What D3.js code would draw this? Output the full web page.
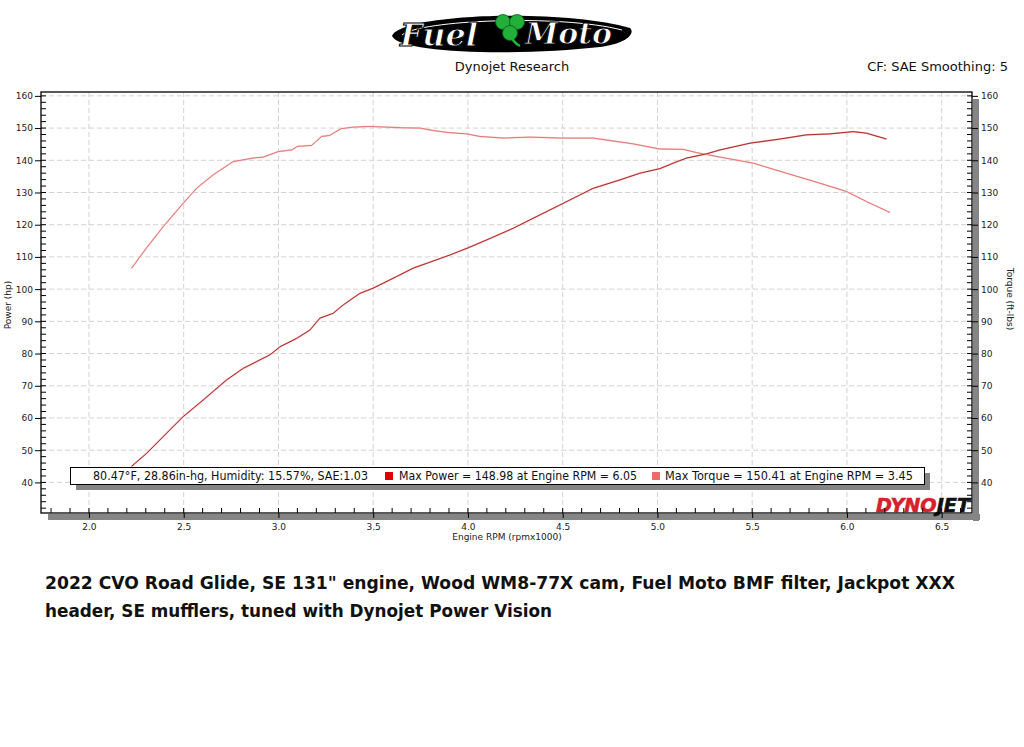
<!DOCTYPE html>
<html><head><meta charset="utf-8">
<script src="https://cdn.jsdelivr.net/npm/d3@7"></script>
<style>body{margin:0;background:#fff}svg{display:block}</style>
</head><body>
<script>
// ---- data ----
const rpmTorque = [2.225,2.30,2.392,2.498,2.568,2.656,2.761,2.867,2.92,2.999,3.07,3.10,3.175,3.228,3.27,3.33,3.395,3.48,3.57,3.65,3.746,3.82,3.9,3.993,4.063,4.187,4.327,4.485,4.66,4.73,4.872,5.013,5.136,5.206,5.33,5.506,5.68,5.857,5.998,6.103,6.227];
const torque = [106.5,112.5,119.4,126.7,131.3,135.5,139.6,140.7,141,142.7,143.2,144.3,144.6,147.4,147.7,149.8,150.3,150.5,150.3,150.1,150,149.2,148.6,148.2,147.4,146.9,147.2,146.9,146.9,146.3,145.1,143.5,143.4,142.4,141,139.1,136,132.9,130.3,127.2,123.8];
const rpmPower = [2.225,2.304,2.427,2.497,2.603,2.726,2.814,2.955,3.008,3.096,3.166,3.219,3.289,3.342,3.43,3.5,3.623,3.711,3.905,4.0,4.1,4.239,4.327,4.485,4.661,4.802,4.908,5.013,5.083,5.154,5.259,5.33,5.488,5.646,5.787,5.91,6.034,6.103,6.209];
const power = [45.0,49.0,56.3,60.4,65.6,71.8,75.4,79.6,82.1,84.7,87.3,91.0,92.5,95.1,98.7,100.3,103.9,106.5,110.6,112.8,115.3,118.9,121.5,126.1,131.3,133.9,136,137.4,139.1,140.7,142,143.2,145.3,146.6,147.9,148.2,148.9,148.4,146.6];
const xTickLabels = ["2.0","2.5","3.0","3.5","4.0","4.5","5.0","5.5","6.0","6.5"];
const yTickLabels = ["40","50","60","70","80","90","100","110","120","130","140","150","160"];
const legendTexts = ["80.47°F, 28.86in-hg, Humidity: 15.57%, SAE:1.03","Max Power = 148.98 at Engine RPM = 6.05","Max Torque = 150.41 at Engine RPM = 3.45"];
const captionLines = ["2022 CVO Road Glide, SE 131\" engine, Wood WM8-77X cam, Fuel Moto BMF filter, Jackpot XXX","header, SE mufflers, tuned with Dynojet Power Vision"];

const W = 1024, H = 747;
const svg = d3.select("body").append("svg").attr("width", W).attr("height", H);
const FONT = "Tahoma, 'DejaVu Sans', sans-serif";

const L = 41, R = 972, T = 92, B = 513;
const x = d3.scaleLinear().domain([1.747, 6.66]).range([L, R]);
const y = d3.scaleLinear().domain([30.5, 161.2]).range([B, T]);

// ---- logo ----
const logo = svg.append("g");
logo.append("path").attr("d","M392,36 C400,14 560,8 630,28 C636,34 625,44 600,47 C520,56 400,54 392,36 Z").attr("fill","#000");
logo.append("path").attr("d","M402,35 C420,20 560,14 622,30").attr("fill","none").attr("stroke","#fff").attr("stroke-width",1);
logo.append("text").attr("x",400).attr("y",46).text("Fuel")
  .attr("font-family","'DejaVu Serif', serif").attr("font-style","italic").attr("font-weight","bold").attr("font-size",32)
  .attr("fill","#fff").attr("stroke","#000").attr("stroke-width",1);
logo.append("text").attr("x",525).attr("y",44).text("Moto")
  .attr("font-family","'DejaVu Serif', serif").attr("font-style","italic").attr("font-weight","bold").attr("font-size",30)
  .attr("fill","#fff").attr("stroke","#000").attr("stroke-width",1);
[[503,22],[517,22],[510,33]].forEach(([cx,cy])=>logo.append("circle").attr("cx",cx).attr("cy",cy).attr("r",7.5).attr("fill","#22b03a").attr("stroke","#0a5a18").attr("stroke-width",0.8));
logo.append("path").attr("d","M510,34 C512,40 516,44 520,46").attr("stroke","#22b03a").attr("stroke-width",2.5).attr("fill","none");

svg.append("text").attr("x",512).attr("y",71).attr("text-anchor","middle").text("Dynojet Research")
  .attr("font-family",FONT).attr("font-size",13).attr("fill","#111");
svg.append("text").attr("x",1008).attr("y",71).attr("text-anchor","end").text("CF: SAE Smoothing: 5")
  .attr("font-family",FONT).attr("font-size",13).attr("fill","#111");

// ---- frame shadow ----
svg.append("rect").attr("x",R+1).attr("y",T+7).attr("width",6).attr("height",B-T+1).attr("fill","#858585");
svg.append("rect").attr("x",L+7).attr("y",B+1).attr("width",R-L+1).attr("height",6).attr("fill","#858585");

// ---- grid ----
const xMajor = xTickLabels.map(Number);
const yMajor = yTickLabels.map(Number);
svg.append("g").selectAll("line").data(xMajor).join("line")
  .attr("x1",d=>x(d)).attr("x2",d=>x(d)).attr("y1",T).attr("y2",B)
  .attr("stroke","#d2d2d2").attr("stroke-dasharray","5,3");
svg.append("g").selectAll("line").data(yMajor).join("line")
  .attr("y1",d=>y(d)).attr("y2",d=>y(d)).attr("x1",L).attr("x2",R)
  .attr("stroke","#d2d2d2").attr("stroke-dasharray","5,3");

// ---- curves ----
const lineT = d3.line().x(d=>x(d[0])).y(d=>y(d[1]));
svg.append("path").datum(d3.zip(rpmTorque, torque)).attr("d", lineT)
  .attr("fill","none").attr("stroke","#f8d0d0").attr("stroke-width",1.8);
svg.append("path").datum(d3.zip(rpmTorque, torque)).attr("d", lineT)
  .attr("fill","none").attr("stroke","#de5e5e").attr("stroke-width",0.8);
svg.append("path").datum(d3.zip(rpmPower, power)).attr("d", lineT)
  .attr("fill","none").attr("stroke","#f4b4b4").attr("stroke-width",1.8);
svg.append("path").datum(d3.zip(rpmPower, power)).attr("d", lineT)
  .attr("fill","none").attr("stroke","#a81818").attr("stroke-width",0.9);

// ---- legend ----
const lg = svg.append("g");
lg.append("rect").attr("x",76).attr("y",473).attr("width",854).attr("height",17).attr("fill","#858585");
lg.append("rect").attr("x",70.5).attr("y",467.5).attr("width",854).attr("height",17).attr("fill","#fff").attr("stroke","#000");
const lgItems = [
  {x:93, w:275, color:null},
  {x:399, w:238, color:"#e00000", sx:385},
  {x:665, w:248, color:"#f06a6a", sx:652}
];
lgItems.forEach((it,i)=>{
  if(it.color) lg.append("rect").attr("x",it.sx).attr("y",472).attr("width",8).attr("height",8).attr("fill",it.color);
  lg.append("text").attr("x",it.x).attr("y",480).text(legendTexts[i])
    .attr("font-family",FONT).attr("font-size",12).attr("fill","#111")
    .attr("textLength",it.w).attr("lengthAdjust","spacingAndGlyphs");
});

// ---- DYNOJET logo ----
const dj = svg.append("text").attr("x",876).attr("y",512)
  .attr("font-family","'DejaVu Sans', sans-serif").attr("font-weight","bold").attr("font-style","italic").attr("font-size",19)
  .attr("textLength",94).attr("lengthAdjust","spacingAndGlyphs").attr("stroke-width",0.6);
dj.append("tspan").text("DYNO").attr("fill","#d8202c").attr("stroke","#d8202c");
dj.append("tspan").text("JET").attr("fill","#111").attr("stroke","#111");

// ---- axes ----
const tickFont = g => g.selectAll("text").attr("font-family",FONT).attr("font-size",9).attr("fill","#222");
svg.append("rect").attr("x",L).attr("y",T).attr("width",R-L).attr("height",B-T).attr("fill","none").attr("stroke","#000").attr("stroke-width",1.3);

const xMinor = d3.range(18, 67).map(v=>v/10);
const yMinor = d3.range(32, 162, 2);
svg.append("g").selectAll("line").data(xMinor).join("line")
  .attr("x1",d=>x(d)).attr("x2",d=>x(d)).attr("y1",B).attr("y2",B-5).attr("stroke","#000");
svg.append("g").selectAll("line").data(yMinor).join("line")
  .attr("y1",d=>y(d)).attr("y2",d=>y(d)).attr("x1",L).attr("x2",L+5).attr("stroke","#000");
svg.append("g").selectAll("line").data(yMinor).join("line")
  .attr("y1",d=>y(d)).attr("y2",d=>y(d)).attr("x1",R).attr("x2",R-5).attr("stroke","#000");

const xAxis = svg.append("g").attr("transform",`translate(0,${B})`)
  .call(d3.axisBottom(x).tickValues(xMajor).tickFormat((d,i)=>xTickLabels[i]).tickSize(5).tickPadding(6));
xAxis.select(".domain").remove(); tickFont(xAxis);
const yAxisL = svg.append("g").attr("transform",`translate(${L},0)`)
  .call(d3.axisLeft(y).tickValues(yMajor).tickFormat((d,i)=>yTickLabels[i]).tickSize(6).tickPadding(2));
yAxisL.select(".domain").remove(); tickFont(yAxisL);
const yAxisR = svg.append("g").attr("transform",`translate(${R},0)`)
  .call(d3.axisRight(y).tickValues(yMajor).tickFormat((d,i)=>yTickLabels[i]).tickSize(6).tickPadding(3));
yAxisR.select(".domain").remove(); tickFont(yAxisR);

svg.append("text").attr("x",507).attr("y",540).attr("text-anchor","middle").text("Engine RPM (rpmx1000)")
  .attr("font-family",FONT).attr("font-size",9).attr("fill","#222");
svg.append("text").attr("transform","translate(11,305) rotate(-90)").attr("text-anchor","middle").text("Power (hp)")
  .attr("font-family",FONT).attr("font-size",9).attr("fill","#222");
svg.append("text").attr("transform","translate(1007,299) rotate(90)").attr("text-anchor","middle").text("Torque (ft-lbs)")
  .attr("font-family",FONT).attr("font-size",9).attr("fill","#222");

// ---- caption ----
captionLines.forEach((t,i)=>{
  svg.append("text").attr("x",45).attr("y",589 + i*28).text(t)
    .attr("font-family","'DejaVu Sans', sans-serif").attr("font-weight","bold").attr("font-size",17.5).attr("fill","#111")
    .attr("textLength", i===0?910:507).attr("lengthAdjust","spacingAndGlyphs");
});
</script>
</body></html>
